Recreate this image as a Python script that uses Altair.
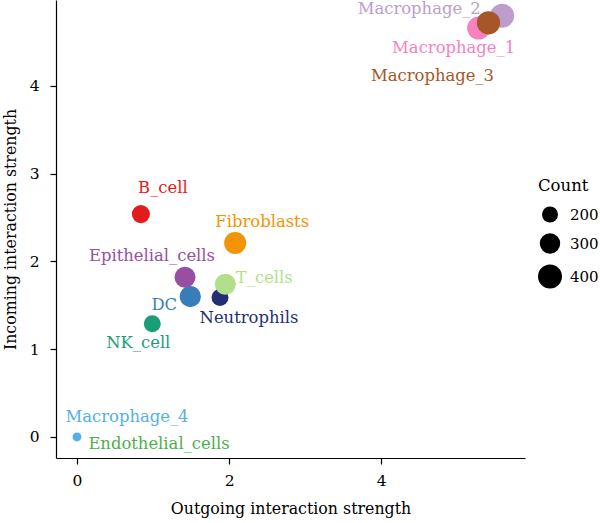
import altair as alt
import pandas as pd

# Cell groups, their signalling strengths and cell counts
cell_types = ["B_cell", "DC", "Endothelial_cells", "Epithelial_cells", "Fibroblasts",
              "Macrophage_1", "Macrophage_2", "Macrophage_3", "Macrophage_4",
              "Neutrophils", "NK_cell", "T_cells"]
outgoing = [0.84, 1.49, 0.0, 1.42, 2.08, 5.28, 5.59, 5.41, 0.0, 1.88, 0.99, 1.95]
incoming = [2.54, 1.60, 0.0, 1.82, 2.21, 4.66, 4.80, 4.72, 0.0, 1.59, 1.29, 1.74]
counts = [245, 320, 50, 315, 345, 370, 400, 380, 90, 220, 220, 315]
palette = ["#E41A1C", "#377EB8", "#4DAF4A", "#984EA3", "#F29403", "#F781BF",
           "#BC9DCC", "#A65628", "#54B0E4", "#222F75", "#1B9E77", "#B2DF8A"]

# label placement (pixel nudges away from each dot)
label_nudge = {
    "B_cell": (22, -26), "DC": (-26, 8), "Endothelial_cells": (82, 7),
    "Epithelial_cells": (-33, -21), "Fibroblasts": (27, -21),
    "Macrophage_1": (-25, 20), "Macrophage_2": (-83, -7), "Macrophage_3": (-56, 53),
    "Macrophage_4": (50, -20), "Neutrophils": (29, 21), "NK_cell": (-14, 19),
    "T_cells": (39, -6),
}

FONT = "DejaVu Serif"

df = pd.DataFrame({"cell": cell_types, "outgoing": outgoing,
                   "incoming": incoming, "count": counts})

x_enc = alt.X("outgoing:Q", title="Outgoing interaction strength",
              scale=alt.Scale(domain=[-0.276, 5.89], nice=False, zero=False),
              axis=alt.Axis(values=[0, 2, 4]))
y_enc = alt.Y("incoming:Q", title="Incoming interaction strength",
              scale=alt.Scale(domain=[-0.24, 4.98], nice=False, zero=False),
              axis=alt.Axis(values=[0, 1, 2, 3, 4]))
color_enc = alt.Color("cell:N", scale=alt.Scale(domain=cell_types, range=palette),
                      legend=None)

base = alt.Chart(df)

points = base.mark_circle(opacity=1).encode(
    x=x_enc, y=y_enc, color=color_enc,
    size=alt.Size("count:Q", title="Count",
                  scale=alt.Scale(domain=[200, 400], range=[256, 576]),
                  legend=alt.Legend(values=[200, 300, 400], orient="none",
                                    legendX=482, legendY=178,
                                    symbolFillColor="black", symbolStrokeColor="black",
                                    symbolOpacity=1, symbolStrokeWidth=0)),
)

labels = []
for name in cell_types:
    dx, dy = label_nudge[name]
    labels.append(
        base.transform_filter(alt.datum.cell == name)
        .mark_text(dx=dx, dy=dy, font=FONT, fontSize=16.4)
        .encode(x=x_enc, y=y_enc, text="cell:N", color=color_enc)
    )

chart = alt.layer(points, *labels).properties(
    width=469, height=458,
    autosize=alt.AutoSizeParams(type="none"),
    padding={"left": 56, "top": 0, "right": 75, "bottom": 65},
).configure_view(stroke=None).configure_axis(
    grid=False, domainColor="black", domainWidth=1.2, tickColor="black",
    tickWidth=1.2, tickSize=6, labelFont=FONT, labelFontSize=15.5, labelColor="black",
    titleFont=FONT, titleFontSize=15.8, titleFontWeight="normal", titleColor="black",
).configure_axisX(labelPadding=9, titlePadding=13).configure_axisY(
    labelPadding=11, titlePadding=11
).configure_legend(
    titleFont=FONT, titleFontSize=16.5, titleFontWeight="normal", titleColor="black",
    titlePadding=12, labelFont=FONT, labelFontSize=15, labelColor="black",
    rowPadding=10.5, labelOffset=8,
)

chart.save("out.html", embed_options={"renderer": "svg", "actions": False})
